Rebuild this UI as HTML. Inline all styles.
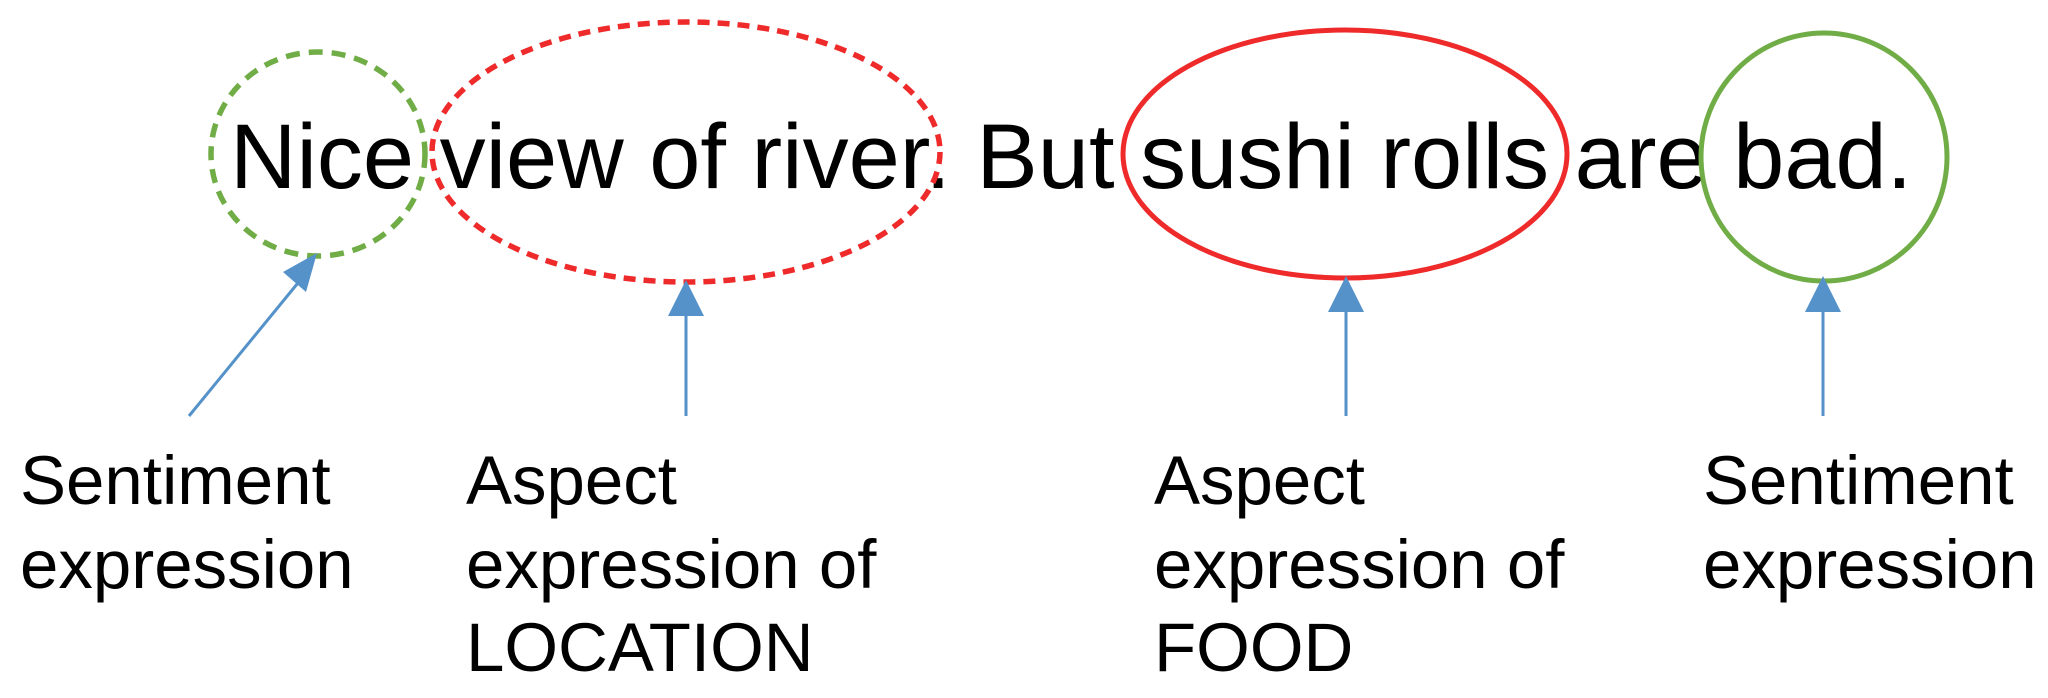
<!DOCTYPE html>
<html><head><style>html,body{margin:0;padding:0;background:#fff}svg{display:block}</style></head>
<body>
<svg width="2048" height="698" viewBox="0 0 2048 698" xmlns="http://www.w3.org/2000/svg" font-family="Liberation Sans, Arial, sans-serif">
<rect width="2048" height="698" fill="#fff"/>
<text x="230" y="188" font-size="92" fill="#000">Nice view of river. But sushi rolls are bad.</text>
<ellipse cx="318" cy="154" rx="107" ry="102" fill="none" stroke="#70ad47" stroke-width="5.5" stroke-dasharray="14 9"/>
<ellipse cx="686" cy="152" rx="254" ry="130" fill="none" stroke="#ee2a2a" stroke-width="5.5" stroke-dasharray="12 8"/>
<ellipse cx="1345" cy="154" rx="222" ry="124" fill="none" stroke="#ee2a2a" stroke-width="5"/>
<ellipse cx="1824" cy="157" rx="123" ry="124" fill="none" stroke="#70ad47" stroke-width="5"/>
<g stroke="#5592c9" stroke-width="3" fill="#5592c9">
<line x1="189" y1="416" x2="302" y2="278"/>
<polygon points="317,253 283,272 306,292" stroke="none"/>
<line x1="686" y1="416" x2="686" y2="312"/>
<polygon points="686,280 668,316 704,316" stroke="none"/>
<line x1="1346" y1="416" x2="1346" y2="308"/>
<polygon points="1346,276 1328,312 1364,312" stroke="none"/>
<line x1="1823" y1="416" x2="1823" y2="308"/>
<polygon points="1823,276 1805,312 1841,312" stroke="none"/>
</g>
<g font-size="69" fill="#000">
<text x="20" y="504">Sentiment</text>
<text x="20" y="588">expression</text>
<text x="466" y="504">Aspect</text>
<text x="466" y="588">expression of</text>
<text x="466" y="671">LOCATION</text>
<text x="1154" y="504">Aspect</text>
<text x="1154" y="588">expression of</text>
<text x="1154" y="671">FOOD</text>
<text x="1703" y="504">Sentiment</text>
<text x="1703" y="588">expression</text>
</g>
</svg>
</body></html>
